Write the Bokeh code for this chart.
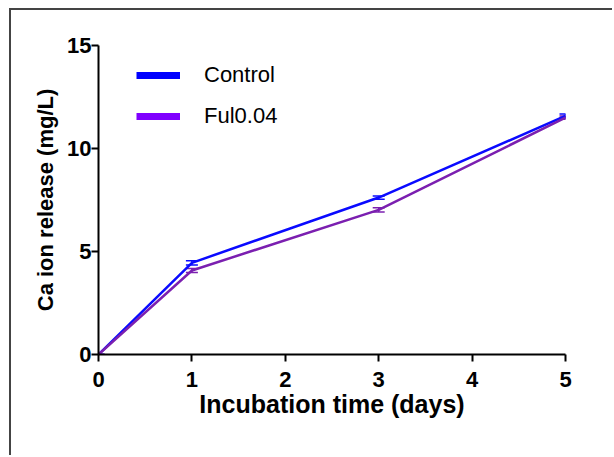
from bokeh.plotting import figure
from bokeh.models import ColumnDataSource, Whisker, Legend, LegendItem, FixedTicker
from bokeh.embed import file_html
from bokeh.resources import INLINE

days = [0, 1, 3, 5]
control = [0.0, 4.45, 7.62, 11.58]
control_err = [0.0, 0.10, 0.08, 0.10]
ful = [0.0, 4.08, 7.02, 11.50]
ful_err = [0.0, 0.10, 0.10, 0.08]
series_names = ["Control", "Ful0.04"]
x_ticks = [0, 1, 2, 3, 4, 5]
y_ticks = [0, 5, 10, 15]

FONT = "Liberation Sans"
BLUE = "#0a0aff"
PURPLE = "#7b1fb0"

p = figure(width=603, height=447, x_range=(0, 5), y_range=(0, 15),
           output_backend="svg", toolbar_location=None,
           min_border_left=87, min_border_right=49, min_border_top=35,
           min_border_bottom=103)
p.styles = {"border-left": "2px solid #444444", "border-top": "2px solid #444444",
            "margin-left": "9px", "margin-top": "8px"}
p.grid.visible = False
p.outline_line_color = None
p.background_fill_color = "white"
p.border_fill_color = "white"

for ax in (p.xaxis[0], p.yaxis[0]):
    ax.axis_line_width = 2
    ax.axis_line_color = "black"
    ax.major_tick_line_width = 2
    ax.major_tick_line_color = "black"
    ax.major_tick_out = 7
    ax.major_tick_in = 0
    ax.minor_tick_line_color = None
    ax.major_label_text_font = FONT
    ax.major_label_text_font_style = "bold"
    ax.major_label_text_font_size = "22px"
    ax.major_label_text_color = "black"
    ax.axis_label_text_font = FONT
    ax.axis_label_text_font_style = "bold"
    ax.axis_label_text_color = "black"

p.xaxis.axis_label_text_font_size = "25px"
p.yaxis.axis_label_text_font_size = "22px"
p.xaxis.ticker = FixedTicker(ticks=x_ticks)
p.yaxis.ticker = FixedTicker(ticks=y_ticks)
p.xaxis.axis_label = "Incubation time (days)"
p.yaxis.axis_label = "Ca ion release (mg/L)"
p.xaxis.major_label_standoff = 10
p.yaxis.major_label_standoff = 0
p.xaxis.axis_label_standoff = 0
p.yaxis.axis_label_standoff = 6

for vals, errs, color in ((control, control_err, BLUE), (ful, ful_err, PURPLE)):
    src = ColumnDataSource(dict(x=days, y=vals,
                                lo=[v - e for v, e in zip(vals, errs)],
                                hi=[v + e for v, e in zip(vals, errs)]))
    p.line("x", "y", source=src, line_color=color, line_width=2.5)
    w = Whisker(source=src, base="x", lower="lo", upper="hi",
                line_color=color, line_width=1.5)
    w.upper_head.size = 12
    w.lower_head.size = 12
    w.upper_head.line_color = color
    w.lower_head.line_color = color
    w.upper_head.line_width = 1.5
    w.lower_head.line_width = 1.5
    p.add_layout(w)

leg_c = p.line([-1, -1], [-1, -1], line_color="#0000ff", line_width=7)
leg_f = p.line([-1, -1], [-1, -1], line_color="#8000ff", line_width=7)
legend = Legend(items=[LegendItem(label=series_names[0], renderers=[leg_c]),
                       LegendItem(label=series_names[1], renderers=[leg_f])],
                location=(38, 225), orientation="vertical",
                label_text_font=FONT, label_text_font_size="22px",
                label_text_color="black",
                glyph_width=44, glyph_height=24, label_standoff=24,
                spacing=15, border_line_color=None, background_fill_alpha=0,
                padding=8)
p.add_layout(legend)

open("out.html", "w").write(file_html(p, INLINE))
